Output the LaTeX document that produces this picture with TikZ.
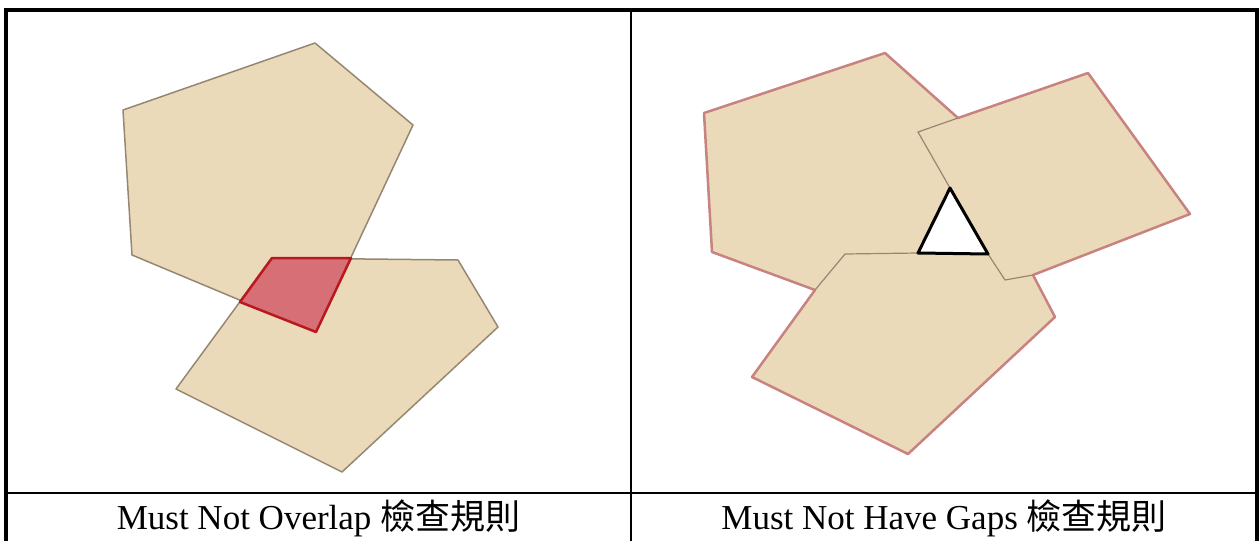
\documentclass[tikz,border=0pt]{standalone}
\usepackage{fontspec}
\setmainfont{Liberation Serif}
\newfontfamily\cjk{Noto Sans CJK TC}
\usepackage{xcolor}
\usepackage{tikz}
\usetikzlibrary{positioning}

\definecolor{parcelfill}{RGB}{235,218,186}
\definecolor{parceledge}{RGB}{150,135,115}
\definecolor{outeredge}{RGB}{200,130,128}
\definecolor{overlapfill}{RGB}{214,112,118}
\definecolor{overlapedge}{RGB}{185,25,30}

\begin{document}
\begin{tikzpicture}[x=1pt, y=-1pt,
  frame/.style={line width=4pt, line cap=rect},
  divider/.style={line width=2.5pt},
  polygon/.style={fill=parcelfill, draw=parceledge, line width=1.5pt, line join=round},
  outline/.style={fill=parcelfill, draw=outeredge, line width=2.5pt, line join=round},
  seam/.style={draw=parceledge, line width=1.2pt, line join=round},
  overlap/.style={fill=overlapfill, draw=overlapedge, line width=2.5pt, line join=round},
  gap/.style={fill=white, draw=black, line width=3pt, line join=round},
  caption/.style={anchor=base, font=\fontsize{35}{40}\selectfont}
]
  \useasboundingbox (0,0) rectangle (1259,541);

  \draw[polygon] (123,110) -- (315,43) -- (413,125) -- (316,332) -- (132,255) -- cycle;
  \draw[polygon] (272,258) -- (458,260) -- (498,327) -- (342,472) -- (176,389) -- cycle;
  \draw[overlap] (272,258) -- (351,258) -- (316,332) -- (240,302) -- cycle;

  \draw[outline] (958,118) -- (885,53) -- (704,113) -- (712,252) -- (815,290) -- (752,377)
    -- (908,454) -- (1055,317) -- (1033,275) -- (1190,214) -- (1088,73) -- cycle;
  \draw[seam] (958,118) -- (918,132) -- (950,188);
  \draw[seam] (918,253) -- (845,254) -- (815,290);
  \draw[seam] (988,254) -- (1005,280) -- (1033,275);
  \draw[gap] (950,188) -- (918,253) -- (988,254) -- cycle;

  \draw[frame] (6,541) -- (6,9.5) -- (1257,9.5) -- (1257,541);
  \draw[divider] (631,9.5) -- (631,541);
  \draw[divider] (6,493) -- (1257,493);

  \node[caption] (overlaprule) at (318.5,529) {Must Not Overlap {\cjk 檢查規則}};
  \node[caption] (gapsrule) at (944,529) {Must Not Have Gaps {\cjk 檢查規則}};
\end{tikzpicture}
\end{document}
